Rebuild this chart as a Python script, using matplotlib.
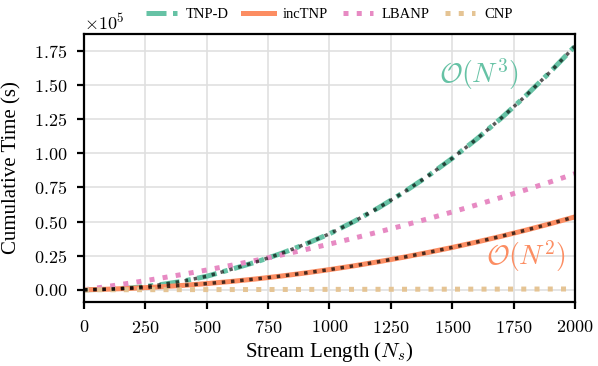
import matplotlib
matplotlib.use("Agg")
import matplotlib.pyplot as plt
from matplotlib.ticker import MultipleLocator

plt.rcParams["font.family"] = "serif"
plt.rcParams["font.serif"] = ["cmr10"]
plt.rcParams["mathtext.fontset"] = "cm"
plt.rcParams["axes.formatter.use_mathtext"] = True

TEXT_FONT = "Liberation Serif"

# stream length and cumulative time (s)
stream_len = [0, 100, 200, 300, 400, 500, 600, 700, 800, 900, 1000,
              1100, 1200, 1300, 1400, 1500, 1600, 1700, 1800, 1900, 2000]
tnpd = [0, 380, 1520, 3460, 6210, 9900, 15000, 20300, 26400, 33300, 41000,
        50050, 60080, 71120, 83180, 96300, 110490, 125770, 142170, 159710, 178400]
inctnp = [0, 460, 1140, 2050, 3180, 4540, 6120, 7940, 9990, 12280, 14800,
          17560, 20560, 23800, 27280, 31010, 34990, 39210, 43690, 48420, 53400]
lbanp = [0, 2540, 5260, 8160, 11240, 14500, 17940, 21560, 25360, 29340, 33500,
         37840, 42360, 47060, 51940, 57000, 62240, 67660, 73260, 79040, 85000]
cnp = [0, 30, 60, 90, 120, 150, 180, 210, 240, 270, 300,
       330, 360, 390, 420, 450, 480, 510, 540, 570, 600]

c_tnpd = "#66c2a5"
c_inc = "#fc8d62"
c_lba = "#e78ac3"
c_cnp = "#e5c494"

fig = plt.figure(figsize=(5.98, 3.66), dpi=100)
ax = fig.add_axes([0.1405, 0.175, 0.821, 0.732])

lw = 3.6
ax.plot(stream_len, tnpd, color=c_tnpd, lw=lw, ls=(0, (4, 1.3, 1, 1.3)), label="TNP-D")
ax.plot(stream_len, inctnp, color=c_inc, lw=lw, ls="-", label="incTNP")
ax.plot(stream_len, lbanp, color=c_lba, lw=lw, ls=":", label="LBANP")
ax.plot(stream_len, cnp, color=c_cnp, lw=lw, ls=":", label="CNP")

# complexity fits drawn over the measured curves
ax.plot(stream_len, tnpd, color="black", alpha=0.65, lw=2.5, ls=":")
ax.plot(stream_len, inctnp, color="black", alpha=0.7, lw=2.5, ls=":")

ax.text(1611, 158000, r"$\mathcal{O}(N^3)$", color=c_tnpd, fontsize=20,
        ha="center", va="center")
ax.text(1800, 24400, r"$\mathcal{O}(N^2)$", color=c_inc, fontsize=20,
        ha="center", va="center")

ax.set_xlim(0, 2000)
ax.set_ylim(-8900, 187300)
ax.xaxis.set_major_locator(MultipleLocator(250))
ax.yaxis.set_major_locator(MultipleLocator(25000))
ax.ticklabel_format(axis="y", style="sci", scilimits=(0, 0), useMathText=True)

ax.grid(True, color="#e0e0e0", lw=1.2)
ax.set_axisbelow(True)
for s in ax.spines.values():
    s.set_linewidth(1.6)
ax.tick_params(direction="out", length=5, width=1.6, pad=7, labelsize=13)
ax.yaxis.get_offset_text().set_fontsize(13)

ax.set_xlabel(r"Stream Length ($N_s$)", fontsize=15, fontfamily=TEXT_FONT, labelpad=3)
ax.set_ylabel("Cumulative Time (s)", fontsize=15, fontfamily=TEXT_FONT, labelpad=9)

ax.legend(loc="lower center", bbox_to_anchor=(0.5, 1.026), ncol=4, frameon=False,
          prop={"family": TEXT_FONT, "size": 10.5}, handlelength=2.1,
          handletextpad=0.6, columnspacing=1.0, borderaxespad=0)

plt.savefig("out.png", dpi=100, facecolor="w")
